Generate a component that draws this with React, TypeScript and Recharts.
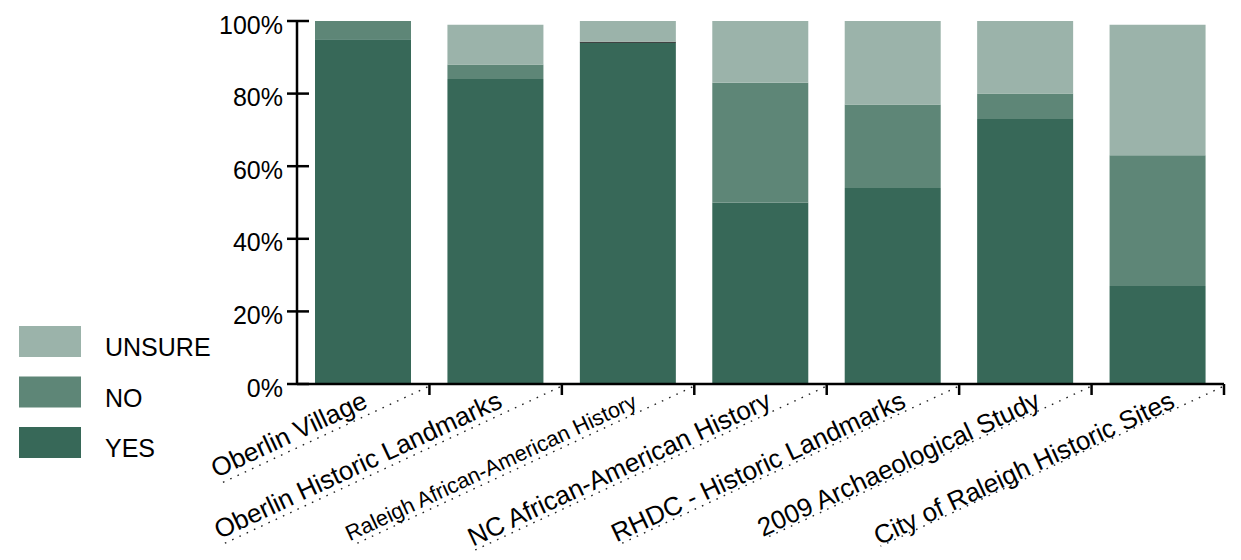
import React from 'react';
import { BarChart, Bar, XAxis, YAxis, Cell } from 'recharts';

const categories = [
  'Oberlin Village',
  'Oberlin Historic Landmarks',
  'Raleigh African-American History',
  'NC African-American History',
  'RHDC - Historic Landmarks',
  '2009 Archaeological Study',
  'City of Raleigh Historic Sites',
];
const yesValues = [95, 84, 94, 50, 54, 73, 27];
const noValues = [5, 4, 0.3, 33, 23, 7, 36];
const unsureValues = [0, 11, 5.7, 17, 23, 20, 36];
const yTicks = [0, 20, 40, 60, 80, 100];
const seriesNames = ['UNSURE', 'NO', 'YES'];

const COLORS: Record<string, string> = {
  YES: '#376858',
  NO: '#5e8677',
  UNSURE: '#9bb3aa',
};
const FONT = '"Liberation Sans", Arial, Helvetica, sans-serif';

const data = categories.map((c, i) => ({
  name: c,
  YES: yesValues[i],
  NO: noValues[i],
  UNSURE: unsureValues[i],
}));

let ctx: CanvasRenderingContext2D | null = null;
function measure(text: string, size: number): number {
  if (!ctx) ctx = document.createElement('canvas').getContext('2d');
  if (!ctx) return text.length * size * 0.5;
  ctx.font = `${size}px ${FONT}`;
  return ctx.measureText(text).width;
}

function XTick(props: any) {
  const { x, y, payload } = props;
  const index = typeof props.index === 'number' ? props.index : 0;
  const axisWidth = typeof props.width === 'number' ? props.width : 927;
  const half = axisWidth / categories.length / 2;
  const label = String(payload.value);
  const base = 26;
  const w0 = measure(label, base);
  const fs = w0 > 360 ? 21.7 : base;
  const tw = measure(label, fs);
  const bx = x + half;
  const shift = 2 + index * 2.1;
  const cos = Math.cos((25 * Math.PI) / 180);
  return (
    <g>
      <line x1={bx} y1={y} x2={bx} y2={y + 11} stroke="#000" strokeWidth={2.5} />
      <g transform={`translate(${bx - 2},${y + 3}) rotate(-25)`}>
        <line
          x1={0}
          y1={0}
          x2={-(62 + tw - shift * cos)}
          y2={0}
          stroke="#222"
          strokeWidth={1.4}
          strokeDasharray="1.6 6.4"
        />
      </g>
      <g transform={`translate(${bx - 2 + shift},${y + 3}) rotate(-25)`}>
        <text x={-63} y={-7.5} textAnchor="end" fontSize={fs} fontFamily={FONT} fill="#000">
          {label}
        </text>
      </g>
    </g>
  );
}

function YTick(props: any) {
  const { x, y, payload } = props;
  return (
    <g>
      <line x1={x - 10} x2={x + 12} y1={y} y2={y} stroke="#000" strokeWidth={2.5} />
      <text x={x - 14} y={y + 12.5} textAnchor="end" fontSize={25} fontFamily={FONT} fill="#000">
        {`${payload.value}%`}
      </text>
    </g>
  );
}

function LegendBox() {
  return (
    <svg
      width={230}
      height={160}
      style={{ position: 'absolute', left: 0, top: 310 }}
    >
      {seriesNames.map((n, i) => {
        const top = 16 + i * 50.5;
        return (
          <g key={n}>
            <rect x={19} y={top} width={62} height={31} fill={COLORS[n]} />
            <text x={105} y={top + 30} fontSize={25} fontFamily={FONT} fill="#000">
              {n}
            </text>
          </g>
        );
      })}
    </svg>
  );
}

export default function App() {
  return (
    <div
      style={{
        position: 'absolute',
        left: 0,
        top: 0,
        width: 1241,
        height: 560,
        background: '#fff',
        fontFamily: FONT,
      }}
    >
      <BarChart
        width={1241}
        height={560}
        data={data}
        margin={{ top: 21, right: 17, bottom: 16, left: 217 }}
      >
        <XAxis
          dataKey="name"
          height={160}
          interval={0}
          tickLine={false}
          tickSize={0}
          tickMargin={0}
          axisLine={{ stroke: '#000', strokeWidth: 2.5 }}
          tick={<XTick />}
        />
        <YAxis
          width={80}
          domain={[0, 100]}
          ticks={yTicks}
          interval={0}
          tickLine={false}
          tickSize={0}
          tickMargin={0}
          axisLine={{ stroke: '#000', strokeWidth: 2.5 }}
          tick={<YTick />}
        />
        <Bar dataKey="YES" stackId="a" fill={COLORS.YES} barSize={96} isAnimationActive={false} />
        <Bar dataKey="NO" stackId="a" fill={COLORS.NO} barSize={96} isAnimationActive={false}>
          {data.map((d, i) => (
            <Cell key={i} fill={d.NO < 1 ? '#111' : COLORS.NO} />
          ))}
        </Bar>
        <Bar dataKey="UNSURE" stackId="a" fill={COLORS.UNSURE} barSize={96} isAnimationActive={false} />
      </BarChart>
      <LegendBox />
    </div>
  );
}
